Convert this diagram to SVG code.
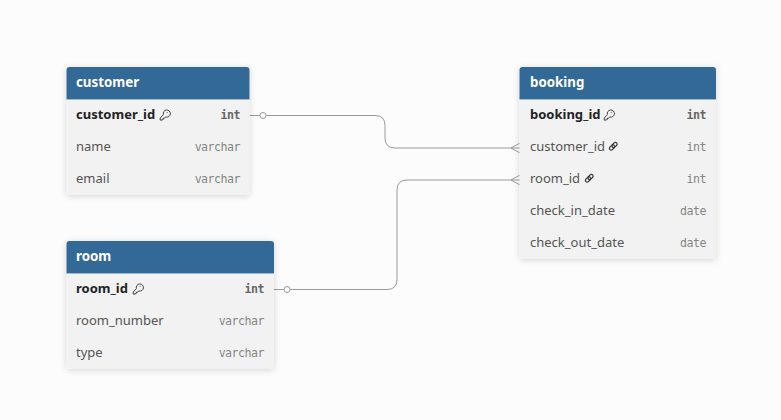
<svg xmlns="http://www.w3.org/2000/svg" width="781" height="420" viewBox="0 0 781 420">
<style>
text{font-family:"Noto Sans","Open Sans",sans-serif;font-size:13px;fill:#555}
.t{font-weight:700;fill:#fff;font-size:13.3px}
.pk{font-weight:700;fill:#222}
.ty{font-family:"DejaVu Sans Mono","Liberation Mono",monospace;font-size:11.6px;letter-spacing:-.5px;fill:#858585;text-anchor:end}
.tyb{font-weight:700;fill:#666}
.body{fill:#f2f2f2;filter:url(#sh)}
.head{fill:#326996}
.hl{stroke:#9db8cf;stroke-width:1;fill:none}
.c{fill:none;stroke:#9a9a9a;stroke-width:1}
.ic{fill:none;stroke:#444;stroke-width:1}
.ln{fill:none;stroke:#333;stroke-width:1.2}
</style>
<defs>
<filter id="sh" x="-15%" y="-15%" width="130%" height="130%"><feDropShadow dx="0" dy="1" stdDeviation="3" flood-color="#000" flood-opacity=".16"/></filter>
<g id="key"><path class="ic" d="M3.900 5.600a3.600 3.600 0 1 1 2.400 2.400L5.200 9H4v1.200H2.800v.9H.7V9Z"/><circle cx="7.600" cy="3.600" r=".5" fill="#444"/></g>
<g id="lnk"><rect class="ln" x="-3.600" y="-1.700" width="6" height="3.400" rx="1.700" transform="translate(6.900 3.600) rotate(-45)"/><rect class="ln" x="-2.400" y="-1.700" width="6" height="3.400" rx="1.700" transform="translate(3.600 6.900) rotate(-45)"/></g>
</defs>
<rect width="781" height="420" fill="#fcfcfc"/>
<g id="connectors">
<path class="c" d="M250 115.500H375Q385 115.500 385 125.500V138Q385 148 395 148H520"/>
<path class="c" d="M274 289.500H387Q397 289.500 397 279.500V190Q397 180 407 180H520"/>
<circle cx="263" cy="115.500" r="3" fill="#fcfcfc" stroke="#9a9a9a"/>
<circle cx="287" cy="289.500" r="3" fill="#fcfcfc" stroke="#9a9a9a"/>
<path class="c" d="M520 143L511 148L520 153M520 175L511 180L520 185"/>
</g>
<g id="customer">
<rect class="body" x="66.500" y="67" width="183" height="128" rx="3"/>
<path class="head" d="M66.500 99V70a3 3 0 0 1 3-3H246.500a3 3 0 0 1 3 3V99Z"/>
<path class="hl" d="M66.500 99.500H249.500"/>
<text class="t" x="76" y="87">customer</text>
<text class="pk" x="76" y="119">customer_id</text><use href="#key" x="159.500" y="109"/>
<text class="ty tyb" x="240" y="119">int</text>
<text x="76" y="151">name</text><text class="ty" x="240" y="151">varchar</text>
<text x="76" y="183">email</text><text class="ty" x="240" y="183">varchar</text>
</g>
<g id="room">
<rect class="body" x="66.500" y="241" width="207.500" height="128" rx="3"/>
<path class="head" d="M66.500 273V244a3 3 0 0 1 3-3H271a3 3 0 0 1 3 3V273Z"/>
<path class="hl" d="M66.500 273.500H274"/>
<text class="t" x="76" y="261">room</text>
<text class="pk" x="76" y="293">room_id</text><use href="#key" x="132.500" y="283"/>
<text class="ty tyb" x="264" y="293">int</text>
<text x="76" y="325">room_number</text><text class="ty" x="264" y="325">varchar</text>
<text x="76" y="357">type</text><text class="ty" x="264" y="357">varchar</text>
</g>
<g id="booking">
<rect class="body" x="519.500" y="67" width="196.500" height="192" rx="3"/>
<path class="head" d="M519.500 99V70a3 3 0 0 1 3-3H713a3 3 0 0 1 3 3V99Z"/>
<path class="hl" d="M519.500 99.500H716"/>
<text class="t" x="530" y="87">booking</text>
<text class="pk" x="530" y="119">booking_id</text><use href="#key" x="603.500" y="109"/>
<text class="ty tyb" x="706" y="119">int</text>
<text x="530" y="151">customer_id</text><use href="#lnk" x="608" y="141"/><text class="ty" x="706" y="151">int</text>
<text x="530" y="183">room_id</text><use href="#lnk" x="584" y="173"/><text class="ty" x="706" y="183">int</text>
<text x="530" y="215">check_in_date</text><text class="ty" x="706" y="215">date</text>
<text x="530" y="247">check_out_date</text><text class="ty" x="706" y="247">date</text>
</g>
</svg>
